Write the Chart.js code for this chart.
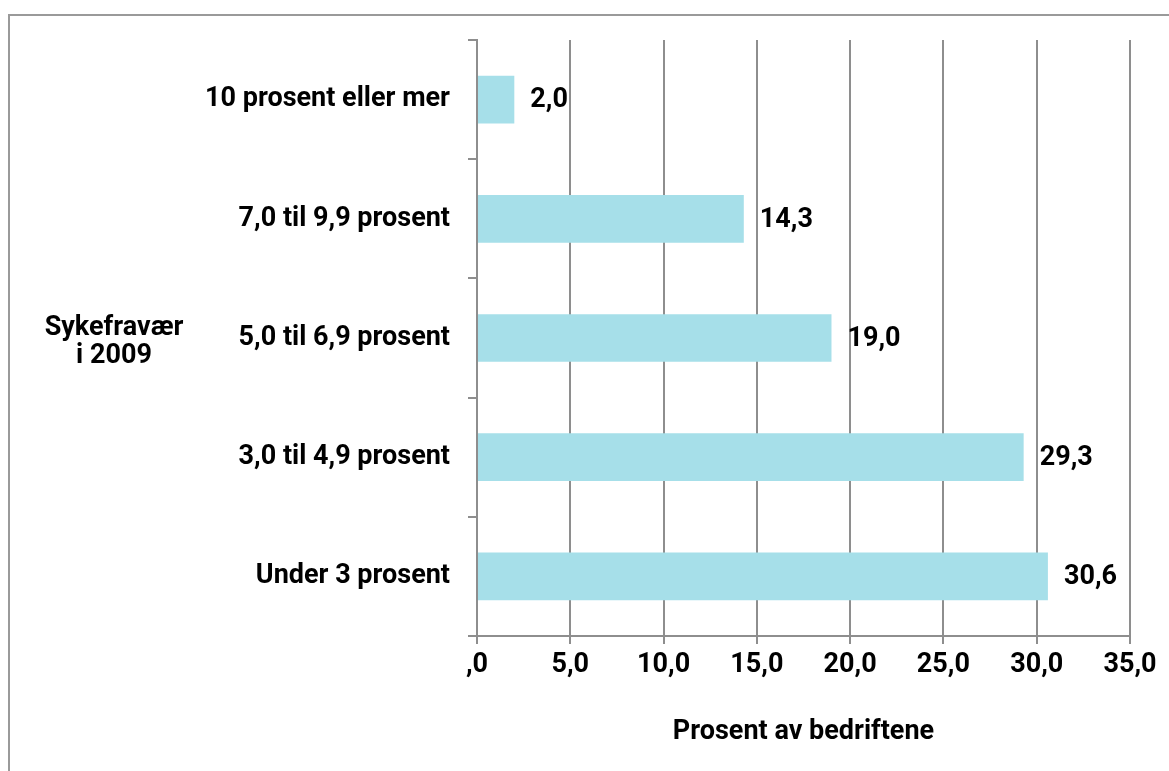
<!DOCTYPE html>
<html lang="no">
<head>
<meta charset="utf-8">
<title>Sykefravær i 2009</title>
<script src="https://cdn.jsdelivr.net/npm/chart.js@4.4.1/dist/chart.umd.min.js"></script>
<style>
    html, body { margin: 0; padding: 0; background: #fff; }
    #wrap { position: relative; width: 1169px; height: 771px; overflow: hidden; }
    #frame {
        position: absolute; left: 8px; top: 14px; right: -10px; bottom: -10px;
        border-top: 2px solid #9a9a9a; border-left: 2px solid #9a9a9a;
    }
    #chart { position: absolute; left: 0; top: 0; }
</style>
</head>
<body>
<div id="wrap">
    <div id="frame"></div>
    <canvas id="chart" width="1169" height="771"></canvas>
</div>
<script>
    // Sykefravær-kategorier og andel bedrifter (prosent)
    var categories = ['10 prosent eller mer', '7,0 til 9,9 prosent', '5,0 til 6,9 prosent', '3,0 til 4,9 prosent', 'Under 3 prosent'];
    var shares = [2.0, 14.3, 19.0, 29.3, 30.6];
    var xTicks = [0, 5, 10, 15, 20, 25, 30, 35];
    var yTitle = ['Sykefravær', 'i 2009'];
    var xTitle = 'Prosent av bedriftene';

    var FONT = 'Roboto, "DejaVu Sans", sans-serif';
    var SIZE = 27;
    var GRID = '#8e8e8e';

    function fmt(v) {
        if (v === 0) return ',0';
        return v.toFixed(1).replace('.', ',');
    }

    // value labels to the right of each bar
    var valueLabels = {
        id: 'valueLabels',
        afterDatasetsDraw: function (chart) {
            var ctx = chart.ctx;
            var meta = chart.getDatasetMeta(0);
            ctx.save();
            ctx.font = 'bold ' + SIZE + 'px ' + FONT;
            ctx.fillStyle = '#000';
            ctx.textAlign = 'left';
            ctx.textBaseline = 'middle';
            meta.data.forEach(function (bar, i) {
                ctx.fillText(fmt(shares[i]), bar.x + 16, bar.y + 1);
            });
            ctx.restore();
        }
    };

    // horizontal y-axis title on the left side
    var sideTitle = {
        id: 'sideTitle',
        afterDraw: function (chart) {
            var ctx = chart.ctx;
            var area = chart.chartArea;
            var mid = (area.top + area.bottom) / 2;
            ctx.save();
            ctx.font = 'bold ' + SIZE + 'px ' + FONT;
            ctx.fillStyle = '#000';
            ctx.textAlign = 'center';
            ctx.textBaseline = 'middle';
            ctx.fillText(yTitle[0], 114, mid - 10);
            ctx.fillText(yTitle[1], 114, mid + 18);
            ctx.restore();
        }
    };

    var ctx = document.getElementById('chart').getContext('2d');
    var chart = new Chart(ctx, {
        type: 'bar',
        data: {
            labels: categories,
            datasets: [{
                data: shares,
                backgroundColor: '#a6dfe9',
                borderWidth: 0,
                barPercentage: 0.4,
                categoryPercentage: 1.0
            }]
        },
        options: {
            indexAxis: 'y',
            responsive: false,
            animation: false,
            layout: { padding: { top: 40, right: 39, bottom: 0, left: 0 } },
            plugins: {
                legend: { display: false },
                tooltip: { enabled: false }
            },
            scales: {
                x: {
                    type: 'linear',
                    min: 0,
                    max: 35,
                    afterBuildTicks: function (axis) {
                        axis.ticks = xTicks.map(function (v) { return { value: v }; });
                    },
                    afterFit: function (axis) { axis.height = 135; },
                    grid: { color: GRID, lineWidth: 2, tickLength: 8, drawTicks: true },
                    border: { color: GRID, width: 2 },
                    ticks: {
                        color: '#000',
                        font: { family: FONT, size: SIZE, weight: 'bold' },
                        padding: 5,
                        callback: function (v) { return fmt(v); }
                    },
                    title: {
                        display: true,
                        text: xTitle,
                        color: '#000',
                        font: { family: FONT, size: SIZE, weight: 'bold' },
                        padding: { top: 0, bottom: 23 }
                    }
                },
                y: {
                    afterFit: function (axis) { axis.width = 477; },
                    grid: { drawOnChartArea: false, color: GRID, lineWidth: 2, tickLength: 9, offset: true },
                    border: { color: GRID, width: 2 },
                    ticks: {
                        color: '#000',
                        font: { family: FONT, size: SIZE, weight: 'bold' },
                        padding: 18
                    }
                }
            }
        },
        plugins: [valueLabels, sideTitle]
    });
</script>
</body>
</html>
